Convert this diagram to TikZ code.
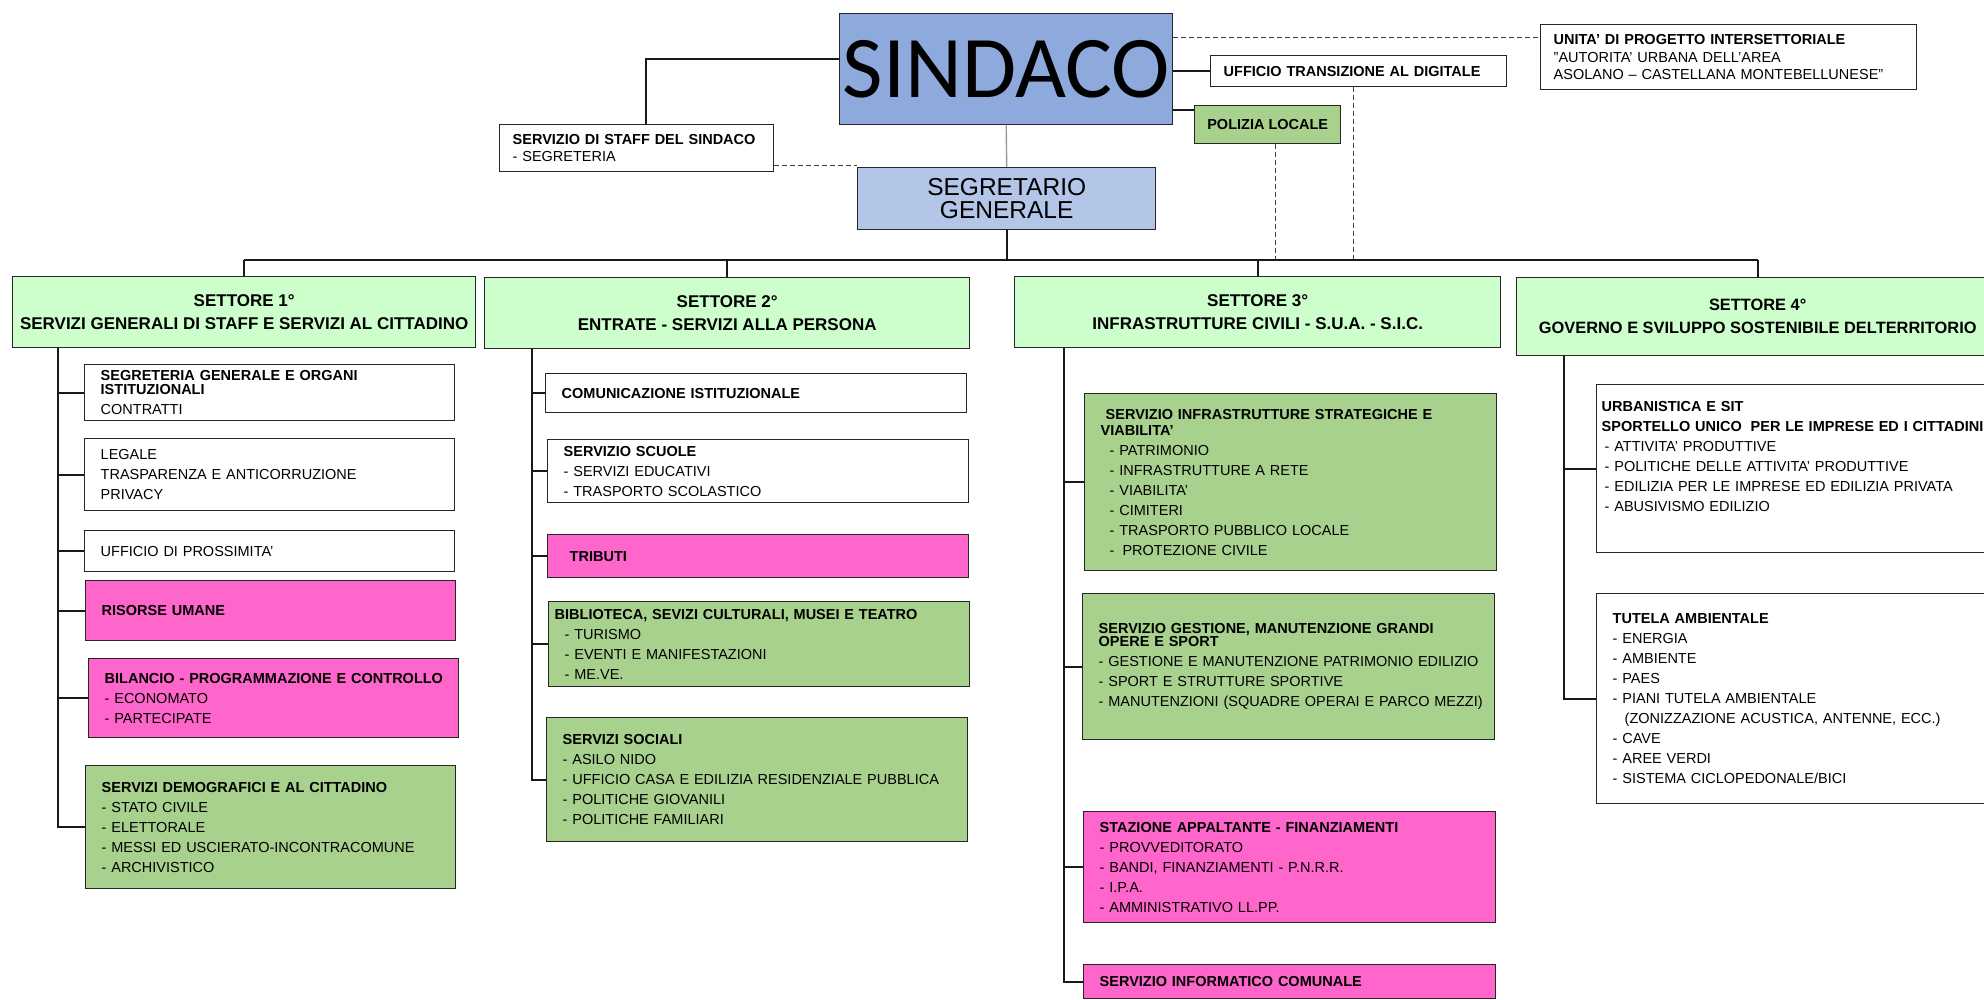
\documentclass[tikz,border=0pt]{standalone}
\usepackage{fontspec}
\setmainfont{Liberation Sans}
\newfontfamily\calibrifont{Carlito}
\definecolor{sindblue}{RGB}{142,169,219}
\definecolor{segblue}{RGB}{180,198,231}
\definecolor{setgreen}{RGB}{204,255,204}
\definecolor{servgreen}{RGB}{169,209,142}
\definecolor{servpink}{RGB}{255,102,204}

\begin{document}
\begin{tikzpicture}[x=1pt,y=-1pt,box/.style={draw=black!85, line width=1.4pt, rectangle, anchor=north west, inner xsep=16pt, inner ysep=0pt, align=left, text=black, font=\fontsize{14.5}{20}\selectfont},head/.style={box, fill=setgreen, align=center, inner xsep=0pt, minimum height=71pt, font=\bfseries\fontsize{17}{23}\selectfont},colA/.style={box, text width=338pt},colB/.style={box, text width=389pt},colC/.style={box, text width=380pt},colD/.style={box, text width=382pt},link/.style={black!90, line width=1.7pt},softlink/.style={black!40, line width=1.4pt},dashlink/.style={black!75, line width=1.2pt, dash pattern=on 5pt off 3pt}]
\useasboundingbox (0,0) rectangle (1984,1000);
% vertice
\node[box, fill=sindblue, minimum width=333pt, minimum height=111pt, inner xsep=0pt, align=center, font=\calibrifont\fontsize{88}{88}\selectfont] (sindaco) at (839,13) {SINDACO};
\node[box, fill=segblue, minimum width=298pt, minimum height=62pt, inner xsep=0pt, align=center, font=\fontsize{24.5}{23}\selectfont] (segretario) at (857,167) {SEGRETARIO\\GENERALE};
\node[box, text width=248pt, inner xsep=13pt, minimum height=47pt, font=\fontsize{14.5}{17}\selectfont] (staff) at (499,124) {\textbf{SERVIZIO DI STAFF DEL SINDACO}\\- SEGRETERIA};
\node[box, text width=270pt, inner xsep=13pt, minimum height=31pt, font=\bfseries\fontsize{14.5}{17}\selectfont] (transdig) at (1210,55) {UFFICIO TRANSIZIONE AL DIGITALE};
\node[box, fill=servgreen, minimum width=146pt, minimum height=38pt, inner xsep=0pt, align=center, font=\bfseries\fontsize{14.5}{17}\selectfont] (polizia) at (1194,105) {POLIZIA LOCALE};
\node[box, text width=350pt, inner xsep=13pt, minimum height=65pt, font=\fontsize{14.5}{17.5}\selectfont] (unita) at (1540,24) {\textbf{UNITA' DI PROGETTO INTERSETTORIALE}\\"AUTORITA' URBANA DELL'AREA\\ASOLANO – CASTELLANA MONTEBELLUNESE"};
% settori
\node[head, minimum width=463pt] (set1) at (12,276) {SETTORE 1°\\SERVIZI GENERALI DI STAFF E SERVIZI AL CITTADINO};
\node[head, minimum width=485pt] (set2) at (484,277) {SETTORE 2°\\ENTRATE - SERVIZI ALLA PERSONA};
\node[head, minimum width=486pt] (set3) at (1014,276) {SETTORE 3°\\INFRASTRUTTURE CIVILI - S.U.A. - S.I.C.};
\node[head, minimum width=482pt, minimum height=78pt, font=\bfseries\fontsize{16.4}{23}\selectfont] (set4) at (1516,277) {SETTORE 4°\\GOVERNO E SVILUPPO SOSTENIBILE DELTERRITORIO};
% settore 1
\node[colA, minimum height=56pt] (segreteria) at (84,364) {\textbf{SEGRETERIA GENERALE E ORGANI}\\[-6pt]\textbf{ISTITUZIONALI}\\CONTRATTI};
\node[colA, minimum height=72pt] (legale) at (84,438) {LEGALE\\TRASPARENZA E ANTICORRUZIONE\\PRIVACY};
\node[colA, minimum height=41pt] (prossimita) at (84,530) {UFFICIO DI PROSSIMITA'};
\node[colA, fill=servpink, minimum height=60pt] (risorse) at (85,580) {\textbf{RISORSE UMANE}};
\node[colA, fill=servpink, minimum height=79pt] (bilancio) at (88,658) {\mbox{\textbf{BILANCIO - PROGRAMMAZIONE E CONTROLLO}}\\- ECONOMATO\\- PARTECIPATE};
\node[colA, fill=servgreen, minimum height=123pt] (demografici) at (85,765) {\textbf{SERVIZI DEMOGRAFICI E AL CITTADINO}\\- STATO CIVILE\\- ELETTORALE\\- MESSI ED USCIERATO-INCONTRACOMUNE\\- ARCHIVISTICO};
% settore 2
\node[colB, minimum height=39pt] (comunicazione) at (545,373) {\textbf{COMUNICAZIONE ISTITUZIONALE}};
\node[colB, minimum height=63pt] (scuole) at (547,439) {\textbf{SERVIZIO SCUOLE}\\- SERVIZI EDUCATIVI\\- TRASPORTO SCOLASTICO};
\node[colB, fill=servpink, minimum height=43pt] (tributi) at (547,534) {\hspace*{6pt}\textbf{TRIBUTI}};
\node[colB, fill=servgreen, inner xsep=6pt, text width=409pt, minimum height=85pt] (biblioteca) at (548,601) {\textbf{BIBLIOTECA, SEVIZI CULTURALI, MUSEI E TEATRO}\\\hspace*{10pt}- TURISMO\\\hspace*{10pt}- EVENTI E MANIFESTAZIONI\\\hspace*{10pt}- ME.VE.};
\node[colB, fill=servgreen, minimum height=124pt] (sociali) at (546,717) {\textbf{SERVIZI SOCIALI}\\- ASILO NIDO\\- UFFICIO CASA E EDILIZIA RESIDENZIALE PUBBLICA\\- POLITICHE GIOVANILI\\- POLITICHE FAMILIARI};
% settore 3
\node[colC, fill=servgreen, minimum height=177pt] (strategiche) at (1084,393) {\hspace*{5pt}\textbf{SERVIZIO INFRASTRUTTURE STRATEGICHE E}\\[-4pt]\textbf{VIABILITA'}\\\hspace*{9pt}- PATRIMONIO\\\hspace*{9pt}- INFRASTRUTTURE A RETE\\\hspace*{9pt}- VIABILITA'\\\hspace*{9pt}- CIMITERI\\\hspace*{9pt}- TRASPORTO PUBBLICO LOCALE\\\hspace*{9pt}-\hspace*{8pt}PROTEZIONE CIVILE};
\node[colC, fill=servgreen, minimum height=146pt] (grandiopere) at (1082,593) {\textbf{SERVIZIO GESTIONE, MANUTENZIONE GRANDI}\\[-7pt]\textbf{OPERE E SPORT}\\\mbox{- GESTIONE E MANUTENZIONE PATRIMONIO EDILIZIO}\\- SPORT E STRUTTURE SPORTIVE\\\mbox{- MANUTENZIONI (SQUADRE OPERAI E PARCO MEZZI)}};
\node[colC, fill=servpink, minimum height=111pt] (appaltante) at (1083,811) {\textbf{STAZIONE APPALTANTE - FINANZIAMENTI}\\- PROVVEDITORATO\\- BANDI, FINANZIAMENTI - P.N.R.R.\\- I.P.A.\\- AMMINISTRATIVO LL.PP.};
\node[colC, fill=servpink, minimum height=34pt] (informatico) at (1083,964) {\textbf{SERVIZIO INFORMATICO COMUNALE}};
% settore 4
\node[colD, inner xsep=5pt, text width=404pt, minimum height=168pt] (urbanistica) at (1596,384) {\textbf{URBANISTICA E SIT}\\\textbf{SPORTELLO UNICO\hspace*{4pt} PER LE IMPRESE ED I CITTADINI}\\\hspace*{3pt}- ATTIVITA' PRODUTTIVE\\\hspace*{3pt}- POLITICHE DELLE ATTIVITA' PRODUTTIVE\\\hspace*{3pt}- EDILIZIA PER LE IMPRESE ED EDILIZIA PRIVATA\\\hspace*{3pt}- ABUSIVISMO EDILIZIO\\[4pt]\mbox{}};
\node[colD, minimum height=210pt] (tutela) at (1596,593) {\textbf{TUTELA AMBIENTALE}\\- ENERGIA\\- AMBIENTE\\- PAES\\- PIANI TUTELA AMBIENTALE\\\hspace*{12pt}(ZONIZZAZIONE ACUSTICA, ANTENNE, ECC.)\\- CAVE\\- AREE VERDI\\- SISTEMA CICLOPEDONALE/BICI};
% collegamenti
\coordinate (bus) at (0,260);\coordinate (t1) at (58,0);\coordinate (t2) at (532,0);\coordinate (t3) at (1064,0);\coordinate (t4) at (1564,0);
\draw[softlink] (sindaco.south) -- (segretario.north);
\draw[link] ([yshift=10pt]sindaco.west) -| ([xshift=9pt]staff.north);
\draw[dashlink] ([yshift=7pt]staff.south east) -- ([yshift=7pt]staff.south east -| segretario.west);
\draw[dashlink] ([yshift=20pt]unita.west -| sindaco.east) -- ([yshift=20pt]unita.west);
\draw[link] (transdig.west -| sindaco.east) -- (transdig.west);
\draw[link] ([yshift=15pt]polizia.west -| sindaco.east) -- ([yshift=15pt]polizia.west);
\draw[dashlink] ([xshift=8pt]polizia.south) -- ([xshift=8pt]polizia.south |- bus);
\draw[dashlink] ([xshift=-5pt]transdig.south) -- ([xshift=-5pt]transdig.south |- bus);
\draw[link] (segretario.south) -- (segretario.south |- bus);
\draw[link] (set1.north |- bus) -- (set4.north |- bus);
\foreach \s in {set1,set2,set3,set4} \draw[link] (\s.north |- bus) -- (\s.north);
\foreach \b in {segreteria,legale,prossimita,risorse,bilancio,demografici} \draw[link] (set1.south -| t1) |- (\b.west);
\foreach \b in {comunicazione,scuole,tributi,biblioteca,sociali} \draw[link] (set2.south -| t2) |- (\b.west);
\foreach \b in {strategiche,grandiopere,appaltante,informatico} \draw[link] (set3.south -| t3) |- (\b.west);
\foreach \b in {urbanistica,tutela} \draw[link] (set4.south -| t4) |- (\b.west);
\end{tikzpicture}
\end{document}
